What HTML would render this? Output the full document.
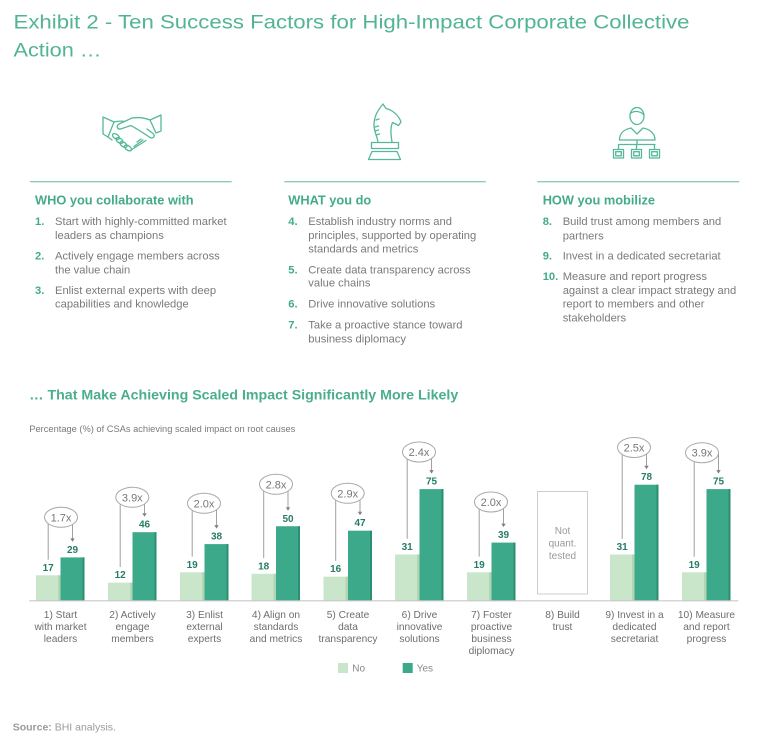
<!DOCTYPE html>
<html><head><meta charset="utf-8"><style>
html,body{margin:0;padding:0;background:#fff;}
svg{display:block;}
text{font-family:"Liberation Sans",Arial,sans-serif;}
</style></head><body>
<svg width="768" height="745" viewBox="0 0 768 745" xmlns="http://www.w3.org/2000/svg">
<rect width="768" height="745" fill="#fff"/>
<!-- Title -->
<text x="13.5" y="28.5" font-size="19.5" fill="#52b495" textLength="676" lengthAdjust="spacingAndGlyphs">Exhibit 2 - Ten Success Factors for High-Impact Corporate Collective</text>
<text x="13.5" y="56.5" font-size="19.5" fill="#52b495" textLength="88" lengthAdjust="spacingAndGlyphs">Action …</text>

<!-- Icons -->
<g fill="none" stroke="#55b89a" stroke-width="1.3" stroke-linejoin="round" stroke-linecap="round">
  <!-- handshake -->
  <path d="M103,117 L114,122 L108,137 L103,134 Z"/>
  <path d="M161,115 L150,120 L156,133 L161,131 Z"/>
  <path d="M150,120 C145,118 138,117 132,118 L119,124 C116,126 117,129.5 120.5,129 L131,125.5 C137,129 145,134 150,137.5 C153,139 156,136 153,133.5 L147,129"/>
  <path d="M114,122 C118,121 122,121 125,121.5"/>
  <path d="M108,137 L112,140"/>
  <ellipse cx="116" cy="136.5" rx="4" ry="2.2" transform="rotate(35 116 136.5)"/>
  <ellipse cx="119.5" cy="140.5" rx="4" ry="2.2" transform="rotate(35 119.5 140.5)"/>
  <ellipse cx="123.5" cy="144.5" rx="4" ry="2.2" transform="rotate(35 123.5 144.5)"/>
  <ellipse cx="128" cy="148" rx="4" ry="2.2" transform="rotate(35 128 148)"/>
  <path d="M131,150 L146,140.5 M134,146.5 L143,140 M137,142 L141,139"/>
  <!-- knight -->
  <path d="M372,151.5 L397,151.5 L400.5,159.5 L368.5,159.5 Z"/>
  <rect x="371.5" y="142.5" width="27" height="6"/>
  <path d="M378,142 C377,136 374,131 374,125 C374,116 378,110 383,104 L386,108.5 C393,110 399,116 401,122 L398.5,125.5 L392.5,122.5 C390,128 391,135 392,142"/>
  <path d="M375,127 L378.5,126 M375,131 L378.5,130 M376,135 L379.5,134 M376,120 L379,119"/>
  <!-- person org -->
  <ellipse cx="637" cy="116" rx="7" ry="8.5"/>
  <path d="M630,114 C633,110.5 640,110.5 644,115"/>
  <path d="M619.5,140 C619.5,132 626,129 631,128 L637,134 L643,128 C648,129 655,132 655,140 Z"/>
  <path d="M637,140 V144.5 M618.5,144.5 H655 M618.5,144.5 V149.5 M636.5,144.5 V149.5 M654.5,144.5 V149.5"/>
  <rect x="613.5" y="149.5" width="10" height="8.5"/>
  <rect x="615.7" y="151.7" width="5.6" height="4.1"/>
  <rect x="631.5" y="149.5" width="10" height="8.5"/>
  <rect x="633.7" y="151.7" width="5.6" height="4.1"/>
  <rect x="649.5" y="149.5" width="10" height="8.5"/>
  <rect x="651.7" y="151.7" width="5.6" height="4.1"/>
</g>

<!-- Rules -->
<g stroke="#8ccbb6" stroke-width="1.3">
  <line x1="30" y1="181.7" x2="231.7" y2="181.7"/>
  <line x1="284.3" y1="181.7" x2="485.7" y2="181.7"/>
  <line x1="537.3" y1="181.7" x2="739.3" y2="181.7"/>
</g>

<!-- Column headings -->
<g font-size="12.8" font-weight="bold" fill="#43ab89">
  <text x="35" y="204.5">WHO you collaborate with</text>
  <text x="288.3" y="204.5">WHAT you do</text>
  <text x="542.7" y="204.5">HOW you mobilize</text>
</g>

<!-- Lists -->
<g font-size="11.2" font-weight="bold" fill="#43ab89">
  <text x="35" y="225">1.</text>
  <text x="35" y="259.7">2.</text>
  <text x="35" y="294">3.</text>
  <text x="288.3" y="225">4.</text>
  <text x="288.3" y="273.3">5.</text>
  <text x="288.3" y="307.3">6.</text>
  <text x="288.3" y="328.3">7.</text>
  <text x="542.7" y="225">8.</text>
  <text x="542.7" y="259.7">9.</text>
  <text x="542.7" y="280">10.</text>
</g>
<g font-size="11.2" fill="#7a7a7a">
  <text x="55" y="225">Start with highly-committed market</text>
  <text x="55" y="239">leaders as champions</text>
  <text x="55" y="259.7">Actively engage members across</text>
  <text x="55" y="273.7">the value chain</text>
  <text x="55" y="294">Enlist external experts with deep</text>
  <text x="55" y="307.7">capabilities and knowledge</text>

  <text x="308.3" y="225">Establish industry norms and</text>
  <text x="308.3" y="239">principles, supported by operating</text>
  <text x="308.3" y="252.7">standards and metrics</text>
  <text x="308.3" y="273.3">Create data transparency across</text>
  <text x="308.3" y="286.7">value chains</text>
  <text x="308.3" y="307.3">Drive innovative solutions</text>
  <text x="308.3" y="328.3">Take a proactive stance toward</text>
  <text x="308.3" y="342.3">business diplomacy</text>

  <text x="562.7" y="225">Build trust among members and</text>
  <text x="562.7" y="239.7">partners</text>
  <text x="562.7" y="259.7">Invest in a dedicated secretariat</text>
  <text x="562.7" y="280">Measure and report progress</text>
  <text x="562.7" y="294">against a clear impact strategy and</text>
  <text x="562.7" y="307.7">report to members and other</text>
  <text x="562.7" y="321.3">stakeholders</text>
</g>

<!-- Chart title -->
<text x="29.3" y="399.5" font-size="13.5" font-weight="bold" fill="#4aae8e" textLength="429" lengthAdjust="spacingAndGlyphs">… That Make Achieving Scaled Impact Significantly More Likely</text>
<text x="29.3" y="431.8" font-size="9.6" fill="#7a7a7a" textLength="266" lengthAdjust="spacingAndGlyphs">Percentage (%) of CSAs achieving scaled impact on root causes</text>

<!-- Connector lines -->
<g stroke="#a0a0a0" stroke-width="1" fill="none">
  <line x1="48.2" y1="517.3" x2="48.2" y2="559.6"/><line x1="72.5" y1="517.3" x2="72.5" y2="539"/>
  <line x1="120.2" y1="497.3" x2="120.2" y2="567"/><line x1="144.5" y1="497.3" x2="144.5" y2="514"/>
  <line x1="192.2" y1="503.3" x2="192.2" y2="556.6"/><line x1="216.5" y1="503.3" x2="216.5" y2="526"/>
  <line x1="263.7" y1="484.3" x2="263.7" y2="558.1"/><line x1="288" y1="484.3" x2="288" y2="508"/>
  <line x1="335.7" y1="493.3" x2="335.7" y2="561"/><line x1="360" y1="493.3" x2="360" y2="512.5"/>
  <line x1="407.2" y1="452" x2="407.2" y2="538.8"/><line x1="431.5" y1="452" x2="431.5" y2="471"/>
  <line x1="479.2" y1="502" x2="479.2" y2="556.6"/><line x1="503.5" y1="502" x2="503.5" y2="524.5"/>
  <line x1="622.2" y1="447.5" x2="622.2" y2="538.8"/><line x1="646.5" y1="447.5" x2="646.5" y2="466.5"/>
  <line x1="694.2" y1="452.7" x2="694.2" y2="556.6"/><line x1="718.5" y1="452.7" x2="718.5" y2="471"/>
</g>
<g fill="#808080">
  <polygon points="70.3,538.4 74.7,538.4 72.5,541.9"/>
  <polygon points="142.3,513.2 146.7,513.2 144.5,516.7"/>
  <polygon points="214.3,525.1 218.7,525.1 216.5,528.6"/>
  <polygon points="285.8,507.25 290.2,507.25 288,510.75"/>
  <polygon points="357.8,511.7 362.2,511.7 360,515.2"/>
  <polygon points="429.3,470.1 433.7,470.1 431.5,473.6"/>
  <polygon points="501.3,523.6 505.7,523.6 503.5,527.1"/>
  <polygon points="644.3,465.7 648.7,465.7 646.5,469.2"/>
  <polygon points="716.3,470.1 720.7,470.1 718.5,473.6"/>
</g>

<!-- Ellipses -->
<g fill="#fff" stroke="#a8a8a8" stroke-width="1">
  <ellipse cx="61" cy="517.3" rx="16.5" ry="10"/>
  <ellipse cx="132.3" cy="497.3" rx="16.5" ry="10"/>
  <ellipse cx="204" cy="503.3" rx="16.5" ry="10"/>
  <ellipse cx="276" cy="484.3" rx="16.5" ry="10"/>
  <ellipse cx="347.7" cy="493.3" rx="16.5" ry="10"/>
  <ellipse cx="419" cy="452" rx="16.5" ry="10"/>
  <ellipse cx="491" cy="502" rx="16.5" ry="10"/>
  <ellipse cx="634" cy="447.5" rx="16.5" ry="10"/>
  <ellipse cx="702" cy="452.7" rx="16.5" ry="10"/>
</g>
<g font-size="11" fill="#777" text-anchor="middle">
  <text x="61" y="521.3">1.7x</text>
  <text x="132.3" y="501.3">3.9x</text>
  <text x="204" y="507.3">2.0x</text>
  <text x="276" y="488.3">2.8x</text>
  <text x="347.7" y="497.3">2.9x</text>
  <text x="419" y="456">2.4x</text>
  <text x="491" y="506">2.0x</text>
  <text x="634" y="451.5">2.5x</text>
  <text x="702" y="456.7">3.9x</text>
</g>

<!-- Bars: No -->
<g>
  <rect x="36" y="575.3" width="24.5" height="25.2" fill="#c9e5ca"/><rect x="58" y="575.3" width="2.5" height="25.2" fill="#b2d6b4"/>
  <rect x="108" y="582.7" width="24.5" height="17.8" fill="#c9e5ca"/><rect x="130" y="582.7" width="2.5" height="17.8" fill="#b2d6b4"/>
  <rect x="180" y="572.3" width="24.5" height="28.2" fill="#c9e5ca"/><rect x="202" y="572.3" width="2.5" height="28.2" fill="#b2d6b4"/>
  <rect x="251.5" y="573.8" width="24.5" height="26.7" fill="#c9e5ca"/><rect x="273.5" y="573.8" width="2.5" height="26.7" fill="#b2d6b4"/>
  <rect x="323.5" y="576.7" width="24.5" height="23.8" fill="#c9e5ca"/><rect x="345.5" y="576.7" width="2.5" height="23.8" fill="#b2d6b4"/>
  <rect x="395" y="554.5" width="24.5" height="46" fill="#c9e5ca"/><rect x="417" y="554.5" width="2.5" height="46" fill="#b2d6b4"/>
  <rect x="467" y="572.3" width="24.5" height="28.2" fill="#c9e5ca"/><rect x="489" y="572.3" width="2.5" height="28.2" fill="#b2d6b4"/>
  <rect x="610" y="554.5" width="24.5" height="46" fill="#c9e5ca"/><rect x="632" y="554.5" width="2.5" height="46" fill="#b2d6b4"/>
  <rect x="682" y="572.3" width="24.5" height="28.2" fill="#c9e5ca"/><rect x="704" y="572.3" width="2.5" height="28.2" fill="#b2d6b4"/>
</g>
<!-- Bars: Yes -->
<g>
  <rect x="60.5" y="557.4" width="24" height="43.1" fill="#3ca98a"/><rect x="82.5" y="557.4" width="2" height="43.1" fill="#2c8e72"/>
  <rect x="132.5" y="532.2" width="24" height="68.3" fill="#3ca98a"/><rect x="154.5" y="532.2" width="2" height="68.3" fill="#2c8e72"/>
  <rect x="204.5" y="544.1" width="24" height="56.4" fill="#3ca98a"/><rect x="226.5" y="544.1" width="2" height="56.4" fill="#2c8e72"/>
  <rect x="276" y="526.25" width="24" height="74.25" fill="#3ca98a"/><rect x="298" y="526.25" width="2" height="74.25" fill="#2c8e72"/>
  <rect x="348" y="530.7" width="24" height="69.8" fill="#3ca98a"/><rect x="370" y="530.7" width="2" height="69.8" fill="#2c8e72"/>
  <rect x="419.5" y="489.1" width="24" height="111.4" fill="#3ca98a"/><rect x="441.5" y="489.1" width="2" height="111.4" fill="#2c8e72"/>
  <rect x="491.5" y="542.6" width="24" height="57.9" fill="#3ca98a"/><rect x="513.5" y="542.6" width="2" height="57.9" fill="#2c8e72"/>
  <rect x="634.5" y="484.7" width="24" height="115.8" fill="#3ca98a"/><rect x="656.5" y="484.7" width="2" height="115.8" fill="#2c8e72"/>
  <rect x="706.5" y="489.1" width="24" height="111.4" fill="#3ca98a"/><rect x="728.5" y="489.1" width="2" height="111.4" fill="#2c8e72"/>
</g>

<!-- Value labels -->
<g font-size="10" font-weight="bold" fill="#267c66" text-anchor="middle">
  <text x="48.2" y="570.8">17</text><text x="72.5" y="553">29</text>
  <text x="120.2" y="578.2">12</text><text x="144.5" y="527.7">46</text>
  <text x="192.2" y="567.8">19</text><text x="216.5" y="539.6">38</text>
  <text x="263.7" y="569.3">18</text><text x="288" y="521.75">50</text>
  <text x="335.7" y="572.2">16</text><text x="360" y="526.2">47</text>
  <text x="407.2" y="550">31</text><text x="431.5" y="484.6">75</text>
  <text x="479.2" y="567.8">19</text><text x="503.5" y="538.1">39</text>
  <text x="622.2" y="550">31</text><text x="646.5" y="480.2">78</text>
  <text x="694.2" y="567.8">19</text><text x="718.5" y="484.6">75</text>
</g>

<!-- Not quant box -->
<rect x="537.5" y="491.5" width="50" height="102.5" fill="#fff" stroke="#cccccc" stroke-width="1"/>
<g font-size="10" fill="#999" text-anchor="middle">
  <text x="562.5" y="534">Not</text>
  <text x="562.5" y="546.5">quant.</text>
  <text x="562.5" y="559">tested</text>
</g>

<!-- Baseline -->
<line x1="29.3" y1="600.8" x2="738.3" y2="600.8" stroke="#c8c8c8" stroke-width="1.2"/>

<!-- Category labels -->
<g font-size="10.2" fill="#6e6e6e" text-anchor="middle">
  <text x="60.5" y="618.2">1) Start</text><text x="60.5" y="630.2">with market</text><text x="60.5" y="642.2">leaders</text>
  <text x="132.5" y="618.2">2) Actively</text><text x="132.5" y="630.2">engage</text><text x="132.5" y="642.2">members</text>
  <text x="204.5" y="618.2">3) Enlist</text><text x="204.5" y="630.2">external</text><text x="204.5" y="642.2">experts</text>
  <text x="276" y="618.2">4) Align on</text><text x="276" y="630.2">standards</text><text x="276" y="642.2">and metrics</text>
  <text x="348" y="618.2">5) Create</text><text x="348" y="630.2">data</text><text x="348" y="642.2">transparency</text>
  <text x="419.5" y="618.2">6) Drive</text><text x="419.5" y="630.2">innovative</text><text x="419.5" y="642.2">solutions</text>
  <text x="491.5" y="618.2">7) Foster</text><text x="491.5" y="630.2">proactive</text><text x="491.5" y="642.2">business</text><text x="491.5" y="654.2">diplomacy</text>
  <text x="562.5" y="618.2">8) Build</text><text x="562.5" y="630.2">trust</text>
  <text x="634.5" y="618.2">9) Invest in a</text><text x="634.5" y="630.2">dedicated</text><text x="634.5" y="642.2">secretariat</text>
  <text x="706.5" y="618.2">10) Measure</text><text x="706.5" y="630.2">and report</text><text x="706.5" y="642.2">progress</text>
</g>

<!-- Legend -->
<rect x="338" y="663" width="10" height="10" fill="#c9e5ca"/>
<text x="352.3" y="671.6" font-size="10" fill="#888">No</text>
<rect x="402.7" y="663" width="10" height="10" fill="#3ca98a"/>
<text x="416.7" y="671.6" font-size="10" fill="#888">Yes</text>

<!-- Source -->
<text x="12.7" y="730.3" font-size="10.5" fill="#9a9a9a"><tspan font-weight="bold">Source:</tspan> BHI analysis.</text>
</svg>
</body></html>
